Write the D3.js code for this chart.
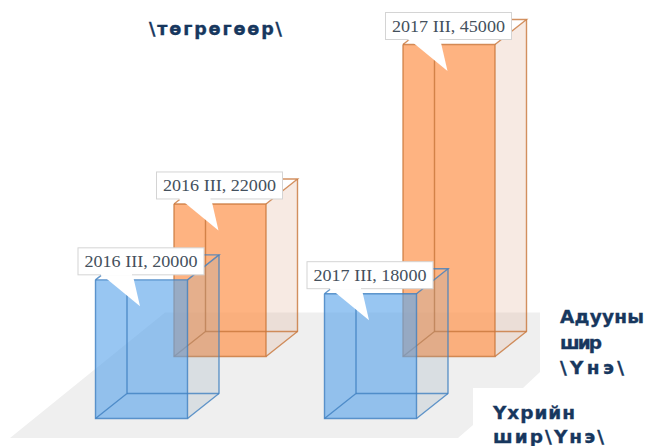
<!DOCTYPE html>
<html><head><meta charset="utf-8">
<script src="https://cdn.jsdelivr.net/npm/d3@7"></script>
<style>html,body{margin:0;padding:0;background:#fff;overflow:hidden}svg{display:block}</style>
</head><body><div id="c"></div>
<script>
const categories = ["2016 III", "2017 III"];
const seriesNames = ["Үхрийн шир", "Адууны шир"];
const cowValues = [20000, 18000];
const horseValues = [22000, 45000];
const titleLines = ["\\төгрөгөөр\\"];
const horseLegend = ["Адууны", "шир", "\\Үнэ\\"];
const cowLegend = ["Үхрийн", "шир\\Үнэ\\"];

const W = 646, H = 446;
const svg = d3.select("#c").append("svg").attr("width", W).attr("height", H);

// scales
const x = d3.scalePoint().domain(categories).range([95.5, 324.5]);
const seriesDx = d3.scalePoint().domain(seriesNames).range([0, 78.5]);
const seriesBase = d3.scalePoint().domain(seriesNames).range([418.5, 356.5]);
const h = d3.scaleLinear().domain([0, 45000]).range([0, 312]);
const barW = 92, depthX = 31.5, depthY = -25;

// floor
const floor = [[10,438],[165,312.5],[540,312.5],[540,372],[523,388],[473,388],[473,425],[458,438]];
svg.append("path").attr("d", d3.line()(floor)+"Z").attr("fill", "#efefef");

const styles = {
  [seriesNames[0]]: {front:"#5ea6ea", frontO:.64, side:"#8fa3b5", sideO:.22, line:"#3f80c0"},
  [seriesNames[1]]: {front:"#fd9550", frontO:.72, side:"#dfa98c", sideO:.24, line:"#c8763a"}
};
const rows = [
  {s: seriesNames[1], v: horseValues},
  {s: seriesNames[0], v: cowValues}
];
const line = d3.line();
rows.forEach(r => {
  const st = styles[r.s];
  const g = svg.append("g");
  const bars = categories.map((c,i) => {
    const x0 = x(c) + seriesDx(r.s), y0 = seriesBase(r.s), t = y0 - h(r.v[i]);
    return {c, v:r.v[i], x0, x1:x0+barW, y0, t};
  });
  bars.forEach(b => {
    const bx0=b.x0+depthX, bx1=b.x1+depthX, by0=b.y0+depthY, byt=b.t+depthY;
    g.append("path").attr("d", line([[b.x1,b.t],[bx1,byt],[bx1,by0],[b.x1,b.y0]])+"Z")
      .attr("fill", st.side).attr("fill-opacity", st.sideO);
    g.append("rect").attr("x",b.x0).attr("y",b.t).attr("width",barW).attr("height",b.y0-b.t)
      .attr("fill", st.front).attr("fill-opacity", st.frontO);
    const edges = [
      [[b.x0,b.t],[b.x1,b.t],[b.x1,b.y0],[b.x0,b.y0],[b.x0,b.t]],
      [[b.x0,b.t],[bx0,byt],[bx1,byt],[b.x1,b.t]],
      [[bx1,byt],[bx1,by0],[b.x1,b.y0]],
      [[bx0,byt],[bx0,by0],[b.x0,b.y0]],
      [[bx0,by0],[bx1,by0]]
    ];
    edges.forEach(e => g.append("path").attr("d", line(e)).attr("fill","none")
      .attr("stroke", st.line).attr("stroke-width",1.4).attr("stroke-opacity",.8));
  });
});

// callouts
rows.forEach(r => {
  categories.forEach((c,i) => {
    const x0 = x(c) + seriesDx(r.s), t = seriesBase(r.s) - h(r.v[i]);
    const g = svg.append("g");
    g.append("path").attr("d", line([[x0+5,t-6],[x0+44.5,t+26.5],[x0+37,t-6]])+"Z").attr("fill","#fff");
    g.append("rect").attr("x",x0-17.5).attr("y",t-32).attr("width",126).attr("height",27)
      .attr("fill","#fff").attr("stroke","#d4d4d4").attr("stroke-width",1);
    g.append("path").attr("d", line([[x0+5.5,t-5],[x0+36.5,t-5]])).attr("stroke","#fff").attr("stroke-width",2);
    g.append("text").attr("x",x0+45.5).attr("y",t-13).attr("text-anchor","middle")
      .attr("font-family","'Liberation Serif'").attr("font-size",17.5).attr("fill","#44505c")
      .attr("textLength",113).attr("lengthAdjust","spacingAndGlyphs")
      .text(`${c}, ${r.v[i]}`);
  });
});

// texts
const bold = (sel) => sel.attr("font-family","'DejaVu Sans'").attr("font-weight","bold")
  .attr("fill","#17375e").attr("stroke","#17375e").attr("stroke-width",.35);
const fit = (sel, w) => sel.attr("textLength", w).attr("lengthAdjust","spacing");
fit(bold(svg.append("text").attr("x",149).attr("y",35).attr("font-size",17.5).text(titleLines[0])),133);
const horseW = [84, 42, 64], cowW = [82, 111];
horseLegend.forEach((t,i) => fit(bold(svg.append("text").attr("x",560).attr("y",323+i*25.5).attr("font-size",18.5).text(t)),horseW[i]));
cowLegend.forEach((t,i) => fit(bold(svg.append("text").attr("x",493).attr("y",419+i*24).attr("font-size",18.5).text(t)),cowW[i]));
</script></body></html>
